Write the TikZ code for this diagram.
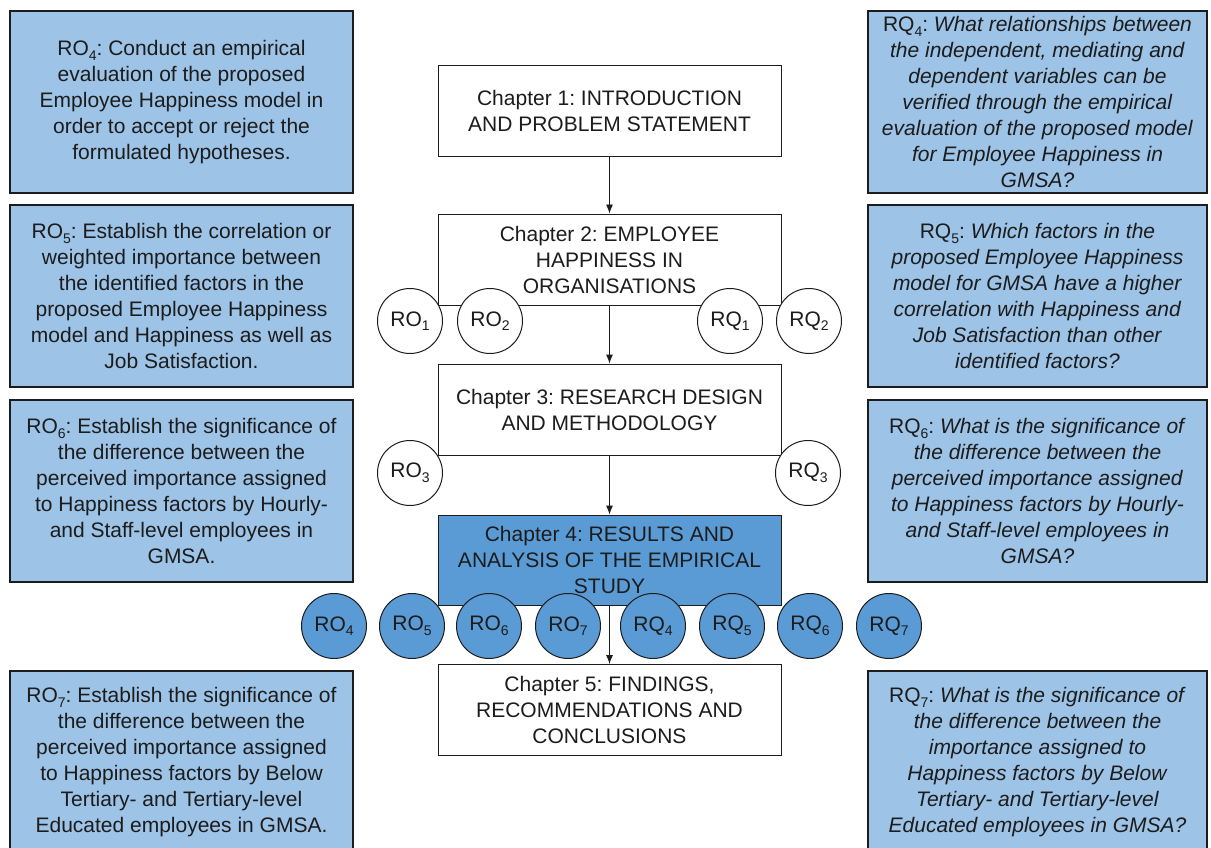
\documentclass[tikz,border=0pt]{standalone}
\usepackage{fontspec}
\setmainfont{Liberation Sans}
\usetikzlibrary{arrows.meta}
\definecolor{lblue}{RGB}{157,195,230}
\definecolor{mblue}{RGB}{91,155,213}
\definecolor{ink}{RGB}{28,28,28}
\newcommand{\sbs}[1]{\raisebox{-0.22em}{\fontsize{14}{14}\selectfont #1}}
\frenchspacing
\begin{document}
\begin{tikzpicture}[x=1pt,y=-1pt,
  txt/.style={font=\fontsize{21}{26}\selectfont, text=ink, align=center, inner sep=0pt},
  infobox/.style={txt, draw=ink, line width=1.8pt, fill=lblue, minimum height=182pt},
  leftbox/.style={infobox, minimum width=343pt},
  rightbox/.style={infobox, minimum width=339pt},
  chapbox/.style={txt, draw=ink, line width=0.9pt, fill=white, minimum width=343pt, minimum height=91pt},
  roundw/.style={txt, circle, draw=ink, line width=1pt, fill=white, minimum size=65pt},
  roundb/.style={roundw, fill=mblue},
  flow/.style={draw=ink, line width=0.9pt, -{Latex[length=9pt,width=7pt]}}
]
\useasboundingbox (0,0) rectangle (1211,848);

% left boxes
\node[leftbox] (ro4) at (181.5,102) {RO\sbs{4}: Conduct an empirical\\evaluation of the proposed\\Employee Happiness model in\\order to accept or reject the\\formulated hypotheses.};
\node[leftbox] (ro5) at (181.5,296) {RO\sbs{5}: Establish the correlation or\\weighted importance between\\the identified factors in the\\proposed Employee Happiness\\model and Happiness as well as\\Job Satisfaction.};
\node[leftbox] (ro6) at (181.5,491) {RO\sbs{6}: Establish the significance of\\the difference between the\\perceived importance assigned\\to Happiness factors by Hourly-\\and Staff-level employees in\\GMSA.};
\node[leftbox] (ro7) at (181.5,762) {RO\sbs{7}: Establish the significance of\\the difference between the\\perceived importance assigned\\to Happiness factors by Below\\Tertiary- and Tertiary-level\\Educated employees in GMSA.};

% right boxes
\node[rightbox] (rq4) at (1037.5,102) {RQ\sbs{4}: \textit{What relationships between}\\\textit{the independent, mediating and}\\\textit{dependent variables can be}\\\textit{verified through the empirical}\\\textit{evaluation of the proposed model}\\\textit{for Employee Happiness in}\\\textit{GMSA?}};
\node[rightbox] (rq5) at (1037.5,296) {RQ\sbs{5}: \textit{Which factors in the}\\\textit{proposed Employee Happiness}\\\textit{model for GMSA have a higher}\\\textit{correlation with Happiness and}\\\textit{Job Satisfaction than other}\\\textit{identified factors?}};
\node[rightbox] (rq6) at (1037.5,491) {RQ\sbs{6}: \textit{What is the significance of}\\\textit{the difference between the}\\\textit{perceived importance assigned}\\\textit{to Happiness factors by Hourly-}\\\textit{and Staff-level employees in}\\\textit{GMSA?}};
\node[rightbox] (rq7) at (1037.5,762) {RQ\sbs{7}: \textit{What is the significance of}\\\textit{the difference between the}\\\textit{importance assigned to}\\\textit{Happiness factors by Below}\\\textit{Tertiary- and Tertiary-level}\\\textit{Educated employees in GMSA?}};

% chapters
\node[chapbox] (c1) at (609.5,111) {Chapter 1: INTRODUCTION\\AND PROBLEM STATEMENT};
\node[chapbox] (c2) at (609.5,259.5) {Chapter 2: EMPLOYEE\\HAPPINESS IN\\ORGANISATIONS};
\node[chapbox] (c3) at (609.5,409.5) {Chapter 3: RESEARCH DESIGN\\AND METHODOLOGY};
\node[chapbox, fill=mblue, minimum height=90pt] (c4) at (609.5,560) {Chapter 4: RESULTS AND\\ANALYSIS OF THE EMPIRICAL\\STUDY};
\node[chapbox] (c5) at (609.5,710) {Chapter 5: FINDINGS,\\RECOMMENDATIONS AND\\CONCLUSIONS};

\draw[flow] (c1) -- (c2);
\draw[flow] (c2) -- (c3);
\draw[flow] (c3) -- (c4);
\draw[flow] (c4) -- (c5);

% white circles
\node[roundw] (o1) at (410,321) {RO\sbs{1}};
\node[roundw] (o2) at (490,321) {RO\sbs{2}};
\node[roundw] (q1) at (730,321) {RQ\sbs{1}};
\node[roundw] (q2) at (809,321) {RQ\sbs{2}};
\node[roundw] (o3) at (410,473) {RO\sbs{3}};
\node[roundw] (q3) at (808,473) {RQ\sbs{3}};

% blue circles
\node[roundb] (b1) at (334,626) {RO\sbs{4}};
\node[roundb] (b2) at (412,626) {RO\sbs{5}};
\node[roundb] (b3) at (489,626) {RO\sbs{6}};
\node[roundb] (b4) at (568,626) {RO\sbs{7}};
\node[roundb] (b5) at (653,626) {RQ\sbs{4}};
\node[roundb] (b6) at (732,626) {RQ\sbs{5}};
\node[roundb] (b7) at (810,626) {RQ\sbs{6}};
\node[roundb] (b8) at (889,626) {RQ\sbs{7}};
\end{tikzpicture}
\end{document}
